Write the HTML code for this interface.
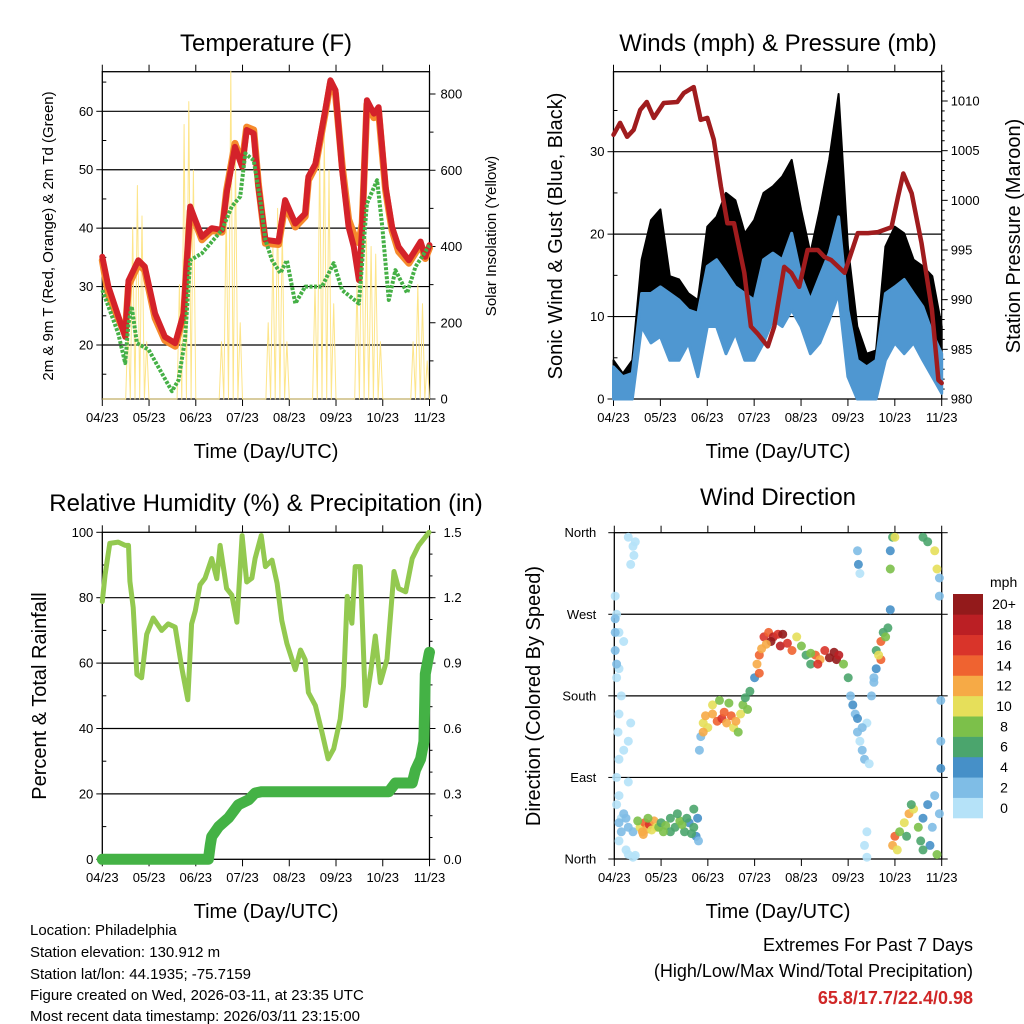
<!DOCTYPE html>
<html><head><meta charset="utf-8">
<style>
body{margin:0;background:#fff;}
svg{display:block;font-family:"Liberation Sans",sans-serif;}
</style></head>
<body>
<svg id="fig" width="1024" height="1024" viewBox="0 0 1024 1024">
<g font-size="24" text-anchor="middle" fill="#000">
<text x="266" y="51">Temperature (F)</text>
<text x="778" y="51">Winds (mph) &amp; Pressure (mb)</text>
<text x="266" y="511">Relative Humidity (%) &amp; Precipitation (in)</text>
<text x="778" y="505">Wind Direction</text>
</g>
<g font-size="20" text-anchor="middle">
<text x="266" y="458">Time (Day/UTC)</text>
<text x="778" y="458">Time (Day/UTC)</text>
<text x="266" y="918">Time (Day/UTC)</text>
<text x="778" y="918">Time (Day/UTC)</text>
<text transform="translate(53,236) rotate(-90)" font-size="15">2m &amp; 9m T (Red, Orange) &amp; 2m Td (Green)</text>
<text transform="translate(496,236) rotate(-90)" font-size="15">Solar Insolation (Yellow)</text>
<text transform="translate(562,236) rotate(-90)">Sonic Wind &amp; Gust (Blue, Black)</text>
<text transform="translate(1020,236) rotate(-90)">Station Pressure (Maroon)</text>
<text transform="translate(46,696) rotate(-90)">Percent &amp; Total Rainfall</text>
<text transform="translate(540,696) rotate(-90)">Direction (Colored By Speed)</text>
</g>
<g font-size="15">
<text x="30" y="935">Location: Philadelphia</text>
<text x="30" y="957">Station elevation: 130.912 m</text>
<text x="30" y="979">Station lat/lon: 44.1935; -75.7159</text>
<text x="30" y="1000">Figure created on Wed, 2026-03-11, at 23:35 UTC</text>
<text x="30" y="1021">Most recent data timestamp: 2026/03/11 23:15:00</text>
</g>
<g font-size="18" text-anchor="end">
<text x="973" y="951">Extremes For Past 7 Days</text>
<text x="973" y="977">(High/Low/Max Wind/Total Precipitation)</text>
<text x="973" y="1004" font-weight="bold" fill="#d02727">65.8/17.7/22.4/0.98</text>
</g>
</svg>
<script>
// ---------- Temperature panel data ----------
const monthLabels = ["04/23","05/23","06/23","07/23","08/23","09/23","10/23","11/23"];
const tempTicks = [20,30,40,50,60];
const solarTicks = [0,200,400,600,800];
const tTime = [0,.13,.49,.56,.77,.91,1.13,1.34,1.56,1.74,1.88,1.99,2.13,2.34,2.56,2.66,2.84,2.99,3.09,3.24,3.34,3.49,3.77,3.91,4.13,4.34,4.41,4.56,4.77,4.88,4.99,5.13,5.27,5.38,5.49,5.56,5.66,5.81,5.91,6.06,6.2,6.34,6.56,6.81,6.91,7.0];
const tempRed = [35.1,30,21.4,31,34.5,33.4,25.4,21.4,20.3,25.4,43.7,41.4,38.5,40,39.7,46,53.9,50.5,56.8,56.2,47.1,38,37.7,44.8,40.8,42.5,48.8,51,60.2,65.3,63.6,50,40.2,36.8,31.1,40.2,61.9,59.6,60.7,47.1,40.2,36.8,34.5,37.7,35.1,37.1];
const tempOrange = [34.5,28.5,21.8,30.2,33.8,32.8,24.6,20.8,19.8,25,43,41,38,39.6,39.3,46.5,54.5,51,57.3,56.8,47.5,37.4,37.2,44,40.2,42,48.2,50.5,59.8,64.8,63,50.8,41.5,39,37.5,40.8,61.2,58.9,60,46.5,39.6,36,34,37.2,34.8,36.6];
const tdTime = [0,.13,.34,.49,.56,.63,.74,.99,1.27,1.49,1.63,1.77,1.88,2.13,2.56,2.77,2.95,3.06,3.24,3.38,3.49,3.63,3.81,3.95,4.13,4.34,4.7,4.95,5.13,5.49,5.66,5.88,5.99,6.13,6.27,6.52,6.7,7.0];
const tempGreen = [29.4,26.6,22,16.9,23.7,26.6,20.3,19.2,15.2,12.1,14,20.9,34.5,35.7,39.7,43.7,45.4,52.8,51.6,44.8,38,34.5,32.3,34.5,27.1,30,30,34,29.4,27.1,44.2,48.2,40.2,27.7,32.8,28.9,33.4,37.1];
const solarPeaks = [0,0,0,0,0,200,450,560,480,150,0,0,0,0,0,0,300,720,780,600,0,0,0,0,0,150,500,860,640,200,0,0,0,0,0,200,400,500,450,150,0,0,0,0,0,300,650,700,600,250,0,0,0,0,300,480,420,400,380,150,0,0,0,0,0,0,150,300,250,100];
// ---------- Wind panel data ----------
const windTicks = [0,10,20,30];
const pressTicks = [980,985,990,995,1000,1005,1010];
const windTime = [0,.2,.4,.6,.8,1,1.2,1.4,1.6,1.8,2,2.2,2.4,2.6,2.8,3,3.2,3.4,3.6,3.8,4,4.2,4.4,4.6,4.8,5,5.2,5.4,5.6,5.8,6,6.2,6.4,6.6,6.8,7];
const windHi = [3.9,2.7,3.1,12.8,12.8,13.6,12.8,12,10.8,10.4,16.1,16.9,15.3,13.6,12.8,12,16.9,17.7,16.9,20.1,14.9,12,14.9,17.7,22.1,10.8,4.7,3.9,4.7,12.8,13.6,14.5,12.8,11.2,8,5.5];
const windLo = [0,0,0,8.8,6.8,7.6,4.7,4.7,6.8,2.7,8.8,8.8,5.5,8,4.7,4.7,6.8,9.6,8.8,10.8,8.8,5.5,6.8,9.6,12.8,2.7,0,0,0,4.7,6.8,5.5,6.8,4.7,2.7,0.7];
const gustHi = [4.7,3.1,4.7,16.9,21.7,23,14.9,14.5,12.8,12,20.9,22.1,25,24.1,20.1,21.7,25,25.8,27,29,23,17.7,23,29,37,18.5,8.8,5.5,5.9,18.5,20.9,20.1,16.9,16.1,14.9,8.8];
const pressTime = [0,.14,.29,.43,.57,.71,.86,1.07,1.36,1.5,1.71,1.86,2,2.14,2.29,2.43,2.57,2.79,2.93,3.07,3.29,3.43,3.64,3.79,3.96,4.14,4.36,4.5,4.64,4.93,5.21,5.43,5.64,5.93,6.07,6.18,6.36,6.57,6.79,6.93,7];
const pressure = [1006.6,1007.8,1006.4,1007.1,1009.1,1009.9,1008.3,1009.8,1009.9,1010.8,1011.4,1008.1,1008.3,1006.1,1001.4,997.7,997.7,992.7,987.3,986.6,985.3,987.3,993.3,992.7,991.3,995,995,994.3,994,992.7,996.7,996.7,996.8,997.3,1000.4,1002.7,1000.7,995.7,989,981.9,981.6];
// ---------- RH panel data ----------
const rhTicks = [0,20,40,60,80,100];
const rainTicks = ["0.0","0.3","0.6","0.9","1.2","1.5"];
const rhTime = [0,.06,.16,.34,.49,.56,.59,.66,.74,.84,.95,1.09,1.27,1.41,1.56,1.7,1.83,1.91,1.99,2.09,2.2,2.34,2.45,2.52,2.66,2.77,2.88,2.99,3.09,3.2,3.27,3.4,3.49,3.63,3.74,3.84,3.95,4.13,4.24,4.34,4.41,4.56,4.7,4.83,4.95,5.09,5.16,5.24,5.34,5.41,5.52,5.63,5.74,5.84,5.95,6.09,6.24,6.34,6.49,6.63,6.77,6.99];
const rhValues = [78.8,87,96.6,97,96,96,85,77,56.5,55.5,68.8,73.8,70,72,71,58.5,48.8,72,76,83.9,86,92,85.8,96,82.8,80.8,72.5,99,84.8,86,92,99,89.5,91.5,84.4,73,66,58,64,61,51,47,38.8,30.7,33.8,42.9,53,80.4,72.2,89.5,89.5,47,57,68.3,54,61.2,88,82.8,81.8,92,96,100];
const rainTime = [0,2.27,2.31,2.34,2.49,2.7,2.91,3.13,3.27,3.41,6.13,6.27,6.63,6.7,6.81,6.88,6.91,6.99,7.0];
const rainValues = [0,0,0.066,0.104,0.15,0.19,0.25,0.273,0.304,0.31,0.31,0.35,0.35,0.41,0.46,0.54,0.85,0.94,0.95];
// ---------- Wind direction data ----------
const dirLabels = ["North","East","South","West","North"];
const speedBins = ["0","2","4","6","8","10","12","14","16","18","20+"];
const binColors = ["#b5e2f8","#7fbde6","#4690c8","#4ba56d","#7cc04a","#e6df5a","#f6aa46","#ef6330","#d9342a","#bb1f24","#931a1b"];
const dirTime = [0.05,0.1,0.15,0.05,0.1,0.2,0.3,0.08,0.1,0.3,0.35,0.05,0.1,0.2,0.15,0.1,0.05,0.02,0.4,0.45,0.3,0.42,0.35,0.25,0.3,0.1,
0.02,0.02,0.05,0.02,0.1,0.15,0.2,0.3,0.25,0.4,
0.55,0.6,0.65,0.7,0.75,0.8,0.85,0.9,0.62,0.72,0.5,
0.95,1.0,1.1,1.2,1.3,1.4,1.5,1.6,1.7,1.75,1.8,1.78,1.7,1.2,1.05,1.35,1.45,1.55,1.65,
1.82,1.85,1.9,1.95,2.0,2.1,2.2,2.3,2.35,2.4,2.5,2.55,2.6,2.7,2.75,2.8,2.85,2.1,2.25,2.45,1.9,2.65,
2.9,3.0,3.05,3.1,3.15,3.2,3.3,3.4,3.5,3.55,3.6,3.7,3.8,3.9,4.0,4.1,3.35,3.25,4.2,3.1,
4.3,4.4,4.5,4.6,4.7,4.75,4.8,4.9,5.0,4.2,4.35,
5.05,5.1,5.15,5.2,5.3,5.35,5.4,5.25,5.45,5.2,5.3,5.5,5.55,
5.6,5.7,5.75,5.8,5.85,5.9,5.7,5.6,5.55,5.65,5.95,5.9,5.9,6.0,
5.2,5.22,5.25,
5.95,6.0,6.05,6.1,6.2,6.25,6.3,6.4,6.5,6.55,6.6,6.7,6.75,6.8,6.9,6.85,6.95,6.35,6.6,
6.6,6.7,6.85,6.9,6.95,6.95,6.98,6.98,6.98,5.35,5.4,5.4,0.4,0.45];
const dirDeg = [60,70,45,90,110,120,85,140,160,130,150,200,210,240,180,250,270,290,345,350,355,335,325,10,5,20,
265,230,215,250,40,30,50,35,45,30,
35,30,40,33,38,32,42,35,27,45,42,
35,40,37,45,35,42,30,40,35,25,20,45,55,30,30,50,38,45,28,
120,135,150,158,145,160,152,155,162,150,158,145,152,160,170,178,165,170,175,172,140,140,
185,200,215,225,232,245,250,245,248,235,248,238,230,245,235,225,240,237,215,205,
225,220,230,222,228,220,225,215,200,227,215,
180,170,160,140,120,110,150,130,105,155,145,180,200,
230,240,250,245,255,275,220,210,195,225,355,340,320,355,
340,325,315,
15,25,10,30,40,25,50,55,35,20,45,60,15,35,5,70,50,60,10,
355,350,340,320,310,290,130,100,175,15,30,2,2,4];
const dirSpeed = [1,1,1,1,1,1,1,1,1,1,1,1,1,1,1,1,1,1,1,1,1,1,1,1,1,1,
3,3,3,3,3,3,3,3,3,3,
10,12,14,12,16,11,13,10,12,9,8,
8,7,8,6,7,8,6,5,6,4,3,4,6,6,8,7,8,6,7,
3,3,10,12,10,12,14,16,14,12,14,10,12,10,8,6,8,10,8,9,12,8,
6,5,12,14,12,16,14,18,16,18,20,16,14,10,8,7,20,12,6,14,
14,12,16,20,20,20,18,8,6,8,16,
3,4,3,3,2,2,1,1,1,4,3,2,2,
6,14,6,8,7,5,14,4,2,10,6,5,8,10,
3,4,1,
12,14,10,8,10,6,12,10,8,6,5,4,4,3,9,2,3,6,6,
6,6,10,11,3,3,3,4,3,1,1,1,1,1];

const NS = "http://www.w3.org/2000/svg";
const svg = document.getElementById("fig");
function mk(tag, attrs, parent){
  const e = document.createElementNS(NS, tag);
  for (const k in attrs) e.setAttribute(k, attrs[k]);
  (parent || svg).appendChild(e);
  return e;
}
function lin(d0,d1,r0,r1){ return v => r0 + (v-d0)/(d1-d0)*(r1-r0); }
function path(xs, ys, fx, fy){ return xs.map((t,i)=>(i?"L":"M")+fx(t).toFixed(1)+","+fy(ys[i]).toFixed(1)).join(""); }

function frame(name, x0, x1, y0, y1, labelY){
  const g = mk("g", {});
  
  
  const fx = lin(0,7,x0,x1);
  for (let i=0;i<8;i++){
    const x = fx(i);
    mk("line",{x1:x,x2:x,y1:y1,y2:y1+7,stroke:"#000","stroke-width":1},g);
    mk("line",{x1:x,x2:x,y1:y0,y2:y0-7,stroke:"#000","stroke-width":1},g);
    const tl = mk("text",{x:x,y:labelY,"font-size":13,"text-anchor":"middle"},g);
    tl.textContent = monthLabels[i];
    
    
  }
  return {g, fx};
}
function box(g,x0,x1,y0,y1){ mk("rect",{x:x0,y:y0,width:x1-x0,height:y1-y0,fill:"none",stroke:"#000","stroke-width":1.3},g); }
function hgrid(g,x0,x1,y){ mk("line",{x1:x0,x2:x1,y1:y,y2:y,stroke:"#000","stroke-width":1.2},g); }
function ylab(g,x,y,txt,anchor,size){
  const t = mk("text",{x:x,y:y+4.5,"font-size":size||13,"text-anchor":anchor},g);
  t.textContent = txt;
  
  
}

// ===== Panel 1: Temperature =====
(function(){
  const x0=102.3,x1=429.5,y0=71.7,y1=399;
  const {g,fx} = frame("temperature",x0,x1,y0,y1,422);
  const fy = lin(20,60,345,111.3);
  const fs = lin(0,800,399,94);
  tempTicks.forEach(v=>{ hgrid(g,x0,x1,fy(v)); mk("line",{x1:x0-6,x2:x0,y1:fy(v),y2:fy(v),stroke:"#000"},g); ylab(g,x0-9,fy(v),String(v),"end"); });
  for(let v=15;v<=65;v+=10) mk("line",{x1:x0,x2:x0+4,y1:fy(v),y2:fy(v),stroke:"#000"},g);
  solarTicks.forEach(v=>{ mk("line",{x1:x1,x2:x1+6,y1:fs(v),y2:fs(v),stroke:"#000"},g); ylab(g,x1+11,fs(v),String(v),"start"); });
  for(let v=100;v<=800;v+=200) mk("line",{x1:x1,x2:x1+4,y1:fs(v),y2:fs(v),stroke:"#000"},g);
  let d="";
  solarPeaks.forEach((p,i)=>{ const t=i*0.1; d+=(i?"L":"M")+fx(t).toFixed(1)+","+fs(0).toFixed(1)+"L"+fx(t+0.05).toFixed(1)+","+fs(p).toFixed(1); });
  d+="L"+fx(7).toFixed(1)+","+fs(0);
  const s = mk("path",{d:d,fill:"none",stroke:"#fde58a","stroke-width":1,"stroke-linejoin":"round"});
  
  
  const o = mk("path",{d:path(tTime,tempOrange,fx,fy),fill:"none",stroke:"#f58a2c","stroke-width":7,"stroke-linejoin":"round","stroke-linecap":"round"});
  
  
  const r = mk("path",{d:path(tTime,tempRed,fx,fy),fill:"none",stroke:"#d4222a","stroke-width":6,"stroke-linejoin":"round","stroke-linecap":"round"});
  
  
  const gr = mk("path",{d:path(tdTime,tempGreen,fx,fy),fill:"none",stroke:"#45b046","stroke-width":4,"stroke-dasharray":"3 1.5","stroke-linejoin":"round"});
  
  
  box(g,x0,x1,y0,y1);
})();

// ===== Panel 2: Winds & Pressure =====
(function(){
  const x0=613.5,x1=941.7,y0=71.7,y1=399;
  const {g,fx} = frame("winds",x0,x1,y0,y1,422);
  const fy = lin(0,30,399,151.7);
  const fp = lin(980,1010,399,101);
  windTicks.forEach(v=>{ if(v>0) hgrid(g,x0,x1,fy(v)); mk("line",{x1:x0-6,x2:x0,y1:fy(v),y2:fy(v),stroke:"#000"},g); ylab(g,x0-9,fy(v),String(v),"end"); });
  for(let v=5;v<=35;v+=10) mk("line",{x1:x0,x2:x0+4,y1:fy(v),y2:fy(v),stroke:"#000"},g);
  pressTicks.forEach(v=>{ mk("line",{x1:x1,x2:x1+6,y1:fp(v),y2:fp(v),stroke:"#000"},g); ylab(g,x1+9,fp(v),String(v),"start"); });
  for(let v=981;v<=1013;v++) if(v%5) mk("line",{x1:x1,x2:x1+3,y1:fp(v),y2:fp(v),stroke:"#000"},g);
  const band = (hi,lo)=> path(windTime,hi,fx,fy) + windTime.slice().reverse().map((t,i)=>"L"+fx(t).toFixed(1)+","+fy(lo[lo.length-1-i]).toFixed(1)).join("")+"Z";
  const gb = mk("path",{d:band(gustHi,windLo),fill:"#000",stroke:"#000","stroke-width":2,"stroke-linejoin":"round"});
  
  
  const wb = mk("path",{d:band(windHi,windLo),fill:"#4f97d1",stroke:"#4f97d1","stroke-width":3,"stroke-linejoin":"round"});
  
  
  const p = mk("path",{d:path(pressTime,pressure,fx,fp),fill:"none",stroke:"#a01c1e","stroke-width":4.5,"stroke-linejoin":"round","stroke-linecap":"round"});
  
  
  box(g,x0,x1,y0,y1);
})();

// ===== Panel 3: RH & Precip =====
(function(){
  const x0=102.3,x1=429.5,y0=532.3,y1=859.3;
  const {g,fx} = frame("humidity",x0,x1,y0,y1,882);
  const fy = lin(0,100,y1,y0);
  const fr = lin(0,1.5,y1,y0);
  rhTicks.forEach(v=>{ if(v>0&&v<100) hgrid(g,x0,x1,fy(v)); mk("line",{x1:x0-6,x2:x0,y1:fy(v),y2:fy(v),stroke:"#000"},g); ylab(g,x0-9,fy(v),String(v),"end"); });
  for(let v=10;v<=90;v+=20) mk("line",{x1:x0,x2:x0+4,y1:fy(v),y2:fy(v),stroke:"#000"},g);
  rainTicks.forEach(v=>{ const y=fr(parseFloat(v)); mk("line",{x1:x1,x2:x1+6,y1:y,y2:y,stroke:"#000"},g); ylab(g,x1+14,y,v,"start"); });
  for(let v=0.1;v<1.5;v+=0.1) mk("line",{x1:x1,x2:x1+3,y1:fr(v),y2:fr(v),stroke:"#000"},g);
  const rh = mk("path",{d:path(rhTime,rhValues,fx,fy),fill:"none",stroke:"#93c950","stroke-width":5,"stroke-linejoin":"round","stroke-linecap":"round"});
  
  
  const pr = mk("path",{d:path(rainTime,rainValues,fx,fr),fill:"none",stroke:"#44b245","stroke-width":11,"stroke-linejoin":"round","stroke-linecap":"round"});
  
  
  box(g,x0,x1,y0,y1);
})();

// ===== Panel 4: Wind Direction =====
(function(){
  const x0=614.3,x1=941.7,y0=532.7,y1=859;
  const {g,fx} = frame("wind-direction",x0,x1,y0,y1,882);
  const fy = lin(0,360,y1,y0);
  dirLabels.forEach((lab,i)=>{ const y=fy(i*90); if(i>0&&i<4) hgrid(g,x0,x1,y); mk("line",{x1:x0-6,x2:x0,y1:y,y2:y,stroke:"#000"},g); mk("line",{x1:x1,x2:x1+6,y1:y,y2:y,stroke:"#000"},g); ylab(g,x0-18,y,lab,"end"); });
  dirTime.forEach((t,i)=>{
    const b = Math.min(10, Math.floor(dirSpeed[i]/2));
    const c = mk("circle",{cx:fx(t).toFixed(1),cy:fy(dirDeg[i]).toFixed(1),r:4.5,fill:binColors[b],"fill-opacity":0.9});
    
    
  });
  box(g,x0,x1,y0,y1);
  const cb = mk("g",{});
  
  
  const mph = mk("text",{x:990,y:587,"font-size":14},cb);
  mph.textContent = "mph";
  const bh = 224/11;
  speedBins.forEach((lab,i)=>{
    const y = 594 + (10-i)*bh;
    mk("rect",{x:953,y:y,width:30,height:bh+0.3,fill:binColors[i]},cb);
    const t = mk("text",{x:1004,y:y+bh/2+5,"font-size":14,"text-anchor":"middle"},cb);
    t.textContent = lab;
    
    
  });
})();
</script>
</body></html>
